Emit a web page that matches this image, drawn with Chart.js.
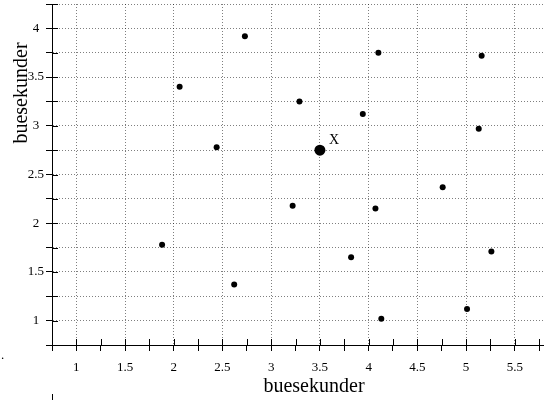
<!DOCTYPE html>
<html>
<head>
<meta charset="utf-8">
<script src="https://cdn.jsdelivr.net/npm/chart.js@4/dist/chart.umd.min.js"></script>
<style>
  body { margin: 0; background: #fff; }
  #wrap { width: 544px; height: 400px; }
</style>
</head>
<body>
<div id="wrap"><canvas id="scatter-canv"></canvas></div>
<script>
// values
const dotX = [2.73, 4.10, 5.16, 2.06, 3.29, 3.94, 5.13, 2.44, 4.76, 3.22, 4.07, 1.88, 5.26, 3.82, 2.62, 5.01, 4.13];
const dotY = [3.92, 3.75, 3.72, 3.40, 3.25, 3.12, 2.97, 2.78, 2.37, 2.18, 2.15, 1.78, 1.71, 1.65, 1.37, 1.12, 1.02];
const markX = [3.5];
const markY = [2.75];
const markLabel = 'X';
const axisTitle = 'buesekunder';
const xTickLabels = ['1', '1.5', '2', '2.5', '3', '3.5', '4', '4.5', '5', '5.5'];
const yTickLabels = ['1', '1.5', '2', '2.5', '3', '3.5', '4'];

const serif = "'Liberation Serif', 'DejaVu Serif', serif";
const gridGray = 'rgba(0,0,0,0.5)';

const toPoints = (xs, ys) => xs.map((v, i) => ({x: v, y: ys[i]}));

// inner halves of the tick marks, the "X" label and the axis titles
const extras = {
    id: 'extras',
    afterDatasetsDraw(chart) {
        const {ctx, chartArea: a, scales: {x, y}} = chart;
        ctx.save();
        ctx.strokeStyle = '#000';
        ctx.lineWidth = 1;
        ctx.beginPath();
        x.ticks.forEach(t => {
            const px = Math.round(x.getPixelForValue(t.value)) + 0.5;
            ctx.moveTo(px, a.bottom);
            ctx.lineTo(px, a.bottom - 6);
        });
        y.ticks.forEach(t => {
            const py = Math.round(y.getPixelForValue(t.value)) + 0.5;
            ctx.moveTo(a.left, py);
            ctx.lineTo(a.left + 6, py);
        });
        // small stray stroke under the y axis
        ctx.moveTo(a.left + 0.5, 394);
        ctx.lineTo(a.left + 0.5, 400);
        ctx.stroke();

        ctx.fillStyle = '#000';
        ctx.font = '14px ' + serif;
        ctx.textAlign = 'left';
        ctx.textBaseline = 'alphabetic';
        ctx.fillText(markLabel, x.getPixelForValue(markX[0]) + 9, y.getPixelForValue(markY[0]) - 6);

        ctx.font = '13px ' + serif;
        ctx.fillText('.', 1, 359);

        ctx.font = '20px ' + serif;
        ctx.textAlign = 'center';
        ctx.fillText(axisTitle, 314, 392);
        ctx.translate(27, 93);
        ctx.rotate(-Math.PI / 2);
        ctx.fillText(axisTitle, 0, 0);
        ctx.restore();
    }
};

const config = {
    type: 'scatter',
    data: {
        datasets: [{
            data: toPoints(dotX, dotY),
            backgroundColor: '#000',
            borderWidth: 0,
            pointRadius: 3,
        }, {
            data: toPoints(markX, markY),
            backgroundColor: '#000',
            borderWidth: 0,
            pointRadius: 5.5,
        }]
    },
    options: {
        responsive: true,
        maintainAspectRatio: false,
        animation: false,
        layout: {
            autoPadding: false,
            padding: { top: 4, left: 0, right: 0, bottom: 0 }
        },
        scales: {
            x: {
                min: 0.75,
                max: 5.8,
                afterFit: s => {
                    s.height = 55;
                    s.paddingLeft = 0;
                    s.paddingRight = 0;
                },
                border: { display: true, color: '#000', width: 1, dash: [1, 2] },
                grid: {
                    color: c => (c.tick && Math.abs(c.tick.value * 2 - Math.round(c.tick.value * 2)) < 1e-6 && c.tick.value >= 1) ? gridGray : 'rgba(0,0,0,0)',
                    tickColor: '#000',
                    tickLength: 6,
                    tickWidth: 1,
                },
                ticks: {
                    stepSize: 0.25,
                    includeBounds: false,
                    autoSkip: false,
                    maxRotation: 0,
                    padding: 9,
                    color: '#000',
                    font: { size: 13, family: serif },
                    callback: v => xTickLabels.includes(String(v)) ? String(v) : ''
                }
            },
            y: {
                min: 0.75,
                max: 4.25,
                afterFit: s => {
                    s.width = 52;
                    s.paddingTop = 0;
                    s.paddingBottom = 0;
                },
                border: { display: true, color: '#000', width: 1, dash: [1, 2] },
                grid: {
                    color: c => (c.tick && c.tick.value > 0.8) ? gridGray : 'rgba(0,0,0,0)',
                    tickColor: '#000',
                    tickLength: 6,
                    tickWidth: 1,
                },
                ticks: {
                    stepSize: 0.25,
                    includeBounds: false,
                    autoSkip: false,
                    crossAlign: 'center',
                    padding: 2,
                    color: '#000',
                    font: { size: 13, family: serif },
                    callback: v => yTickLabels.includes(String(v)) ? String(v) : ''
                }
            }
        },
        plugins: {
            legend: { display: false },
            tooltip: { enabled: false }
        }
    },
    plugins: [extras]
};

var myChart = new Chart(document.getElementById('scatter-canv'), config);
</script>
</body>
</html>
